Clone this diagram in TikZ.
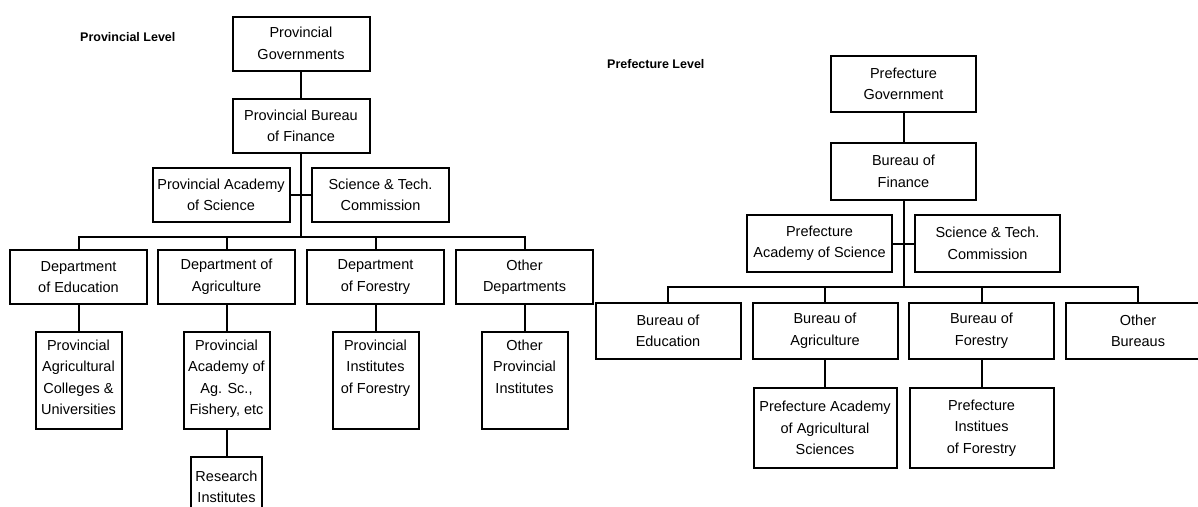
\documentclass[tikz,border=0pt]{standalone}
\usepackage{fontspec}
\setmainfont{Liberation Sans}
\newcommand{\toplines}[1]{\parbox[t][82pt][t]{84pt}{\centering #1}}
\begin{document}
\begin{tikzpicture}
      [
      x=1pt,y=-1pt,
      unit/.style={draw,line width=2pt,rectangle,inner sep=0pt,align=center,
        font=\fontsize{14.5}{21.5}\selectfont,minimum height=54pt,minimum width=137pt},
      prefunit/.style={unit,minimum width=145pt,minimum height=56pt},
      institute/.style={unit,minimum width=86pt,minimum height=97pt},
      levelname/.style={anchor=west,inner sep=0pt,font=\bfseries\fontsize{12.5}{15}\selectfont},
      link/.style={line width=2pt}
      ]
      \useasboundingbox (0,0) rectangle (1198,506);
      % provincial level
      \node (plevel) at (80,37) [levelname] {Provincial Level};
      \node (pgov) at (301,43.5) [unit] {Provincial\\Governments};
      \node (pfin) at (301,126) [unit] {Provincial Bureau\\of Finance};
      \node (pacad) at (221,195) [unit] {Provincial Academy\\of Science};
      \node (pst) at (380.5,195) [unit] {Science \& Tech.\\Commission};
      \coordinate (pbus) at (301,237);
      \node (pedu) at (78.5,277) [unit] {Department\\of Education};
      \node (pagr) at (226.5,277) [unit] {Department of\\Agriculture};
      \node (pfor) at (375.5,277) [unit] {Department\\of Forestry};
      \node (poth) at (524.5,277) [unit] {Other\\Departments};
      \node (pedusub) at (78.5,380.5) [institute] {\toplines{Provincial\\Agricultural\\Colleges \&\\Universities}};
      \node (pagrsub) at (226.5,380.5) [institute] {\toplines{Provincial\\Academy of\\Ag. Sc.,\\Fishery, etc}};
      \node (pforsub) at (375.5,380.5) [institute] {\toplines{Provincial\\Institutes\\of Forestry}};
      \node (pothsub) at (524.5,380.5) [institute] {\toplines{Other\\Provincial\\Institutes}};
      \node (pres) at (226.5,487) [unit,minimum width=71pt,minimum height=60pt] {Research\\Institutes};
      \draw [link] (pgov) -- (pfin);
      \draw [link] (pfin) -- (pbus);
      \draw [link] (pacad) -- (pst);
      \draw [link] (pedu.north) |- (pbus) -| (poth.north);
      \draw [link] (pagr.north) -- (pagr.north |- pbus);
      \draw [link] (pfor.north) -- (pfor.north |- pbus);
      \draw [link] (pedu) -- (pedusub);
      \draw [link] (pagr) -- (pagrsub);
      \draw [link] (pfor) -- (pforsub);
      \draw [link] (poth) -- (pothsub);
      \draw [link] (pagrsub) -- (pres);
      % prefecture level
      \node (flevel) at (607,64) [levelname] {Prefecture Level};
      \node (fgov) at (903.5,84) [prefunit] {Prefecture\\Government};
      \node (ffin) at (903.5,171.5) [prefunit,minimum height=57pt] {Bureau of\\Finance};
      \node (facad) at (819.5,243.5) [prefunit,minimum height=57pt] {Prefecture\\Academy of Science};
      \node (fst) at (987.5,243.5) [prefunit,minimum height=57pt] {Science \& Tech.\\Commission};
      \coordinate (fbus) at (903.5,287);
      \node (fedu) at (668,331) [prefunit] {Bureau of\\Education};
      \node (fagr) at (825,331) [prefunit] {Bureau of\\Agriculture};
      \node (ffor) at (981.5,331) [prefunit] {Bureau of\\Forestry};
      \node (foth) at (1138,331) [prefunit] {Other\\Bureaus};
      \node (fagrsub) at (825,428) [prefunit,minimum width=143pt,minimum height=80pt] {Prefecture Academy\\of Agricultural\\Sciences};
      \node (fforsub) at (981.5,428) [prefunit,minimum width=144pt,minimum height=80pt] {Prefecture\\Institues\\of Forestry};
      \draw [link] (fgov) -- (ffin);
      \draw [link] (ffin) -- (fbus);
      \draw [link] (facad) -- (fst);
      \draw [link] (fedu.north) |- (fbus) -| (foth.north);
      \draw [link] (fagr.north) -- (fagr.north |- fbus);
      \draw [link] (ffor.north) -- (ffor.north |- fbus);
      \draw [link] (fagr) -- (fagrsub);
      \draw [link] (ffor) -- (fforsub);
    \end{tikzpicture}
\end{document}
